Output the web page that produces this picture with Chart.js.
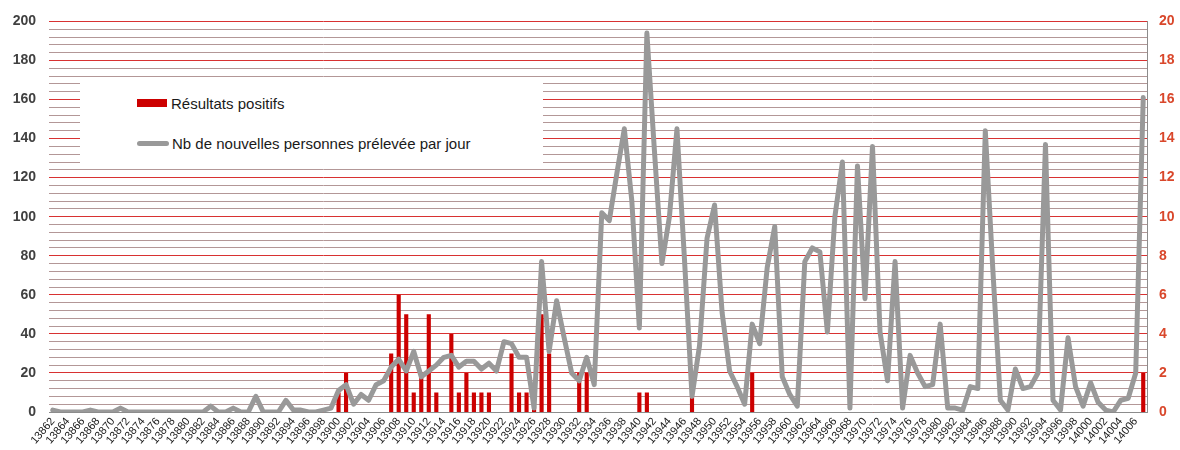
<!DOCTYPE html>
<html>
<head>
<meta charset="utf-8">
<script src="https://cdn.jsdelivr.net/npm/chart.js@4.4.1/dist/chart.umd.min.js"></script>
<style>
  html, body { margin: 0; padding: 0; background: #ffffff; }
  #wrap { position: relative; width: 1180px; height: 450px; overflow: hidden; }
  #legend { position: absolute; left: 80px; top: 82px; width: 463px; height: 87px; background: #ffffff;
            font-family: "Liberation Sans", Arial, sans-serif; font-size: 15px; color: #1a1a1a; }
  .item { position: absolute; left: 57px; height: 20px; display: flex; align-items: center; white-space: nowrap; }
  .sw-bar { width: 30px; height: 8px; background: #cc0000; margin-right: 4px; }
  .sw-line { width: 32px; height: 5px; border-radius: 3px; background: #999999; margin-right: 3px; }
</style>
</head>
<body>
<div id="wrap">
  <canvas id="c" width="1180" height="450"></canvas>
  <div id="legend"></div>
</div>
<script>
// ---- data ----
const firstDay = 13862;
const lastDay = 14007;
const categories = [];
for (let d = firstDay; d <= lastDay; d++) categories.push(String(d));

const positiveLabel = "Résultats positifs";
const samplesLabel = "Nb de nouvelles personnes prélevée par jour";

// Résultats positifs (right axis)
const positives = [
  0,0,0,0,0,0,0,0,0,0,
  0,0,0,0,0,0,0,0,0,0,
  0,0,0,0,0,0,0,0,0,0,
  0,0,0,0,0,0,0,0,1,2,
  0,0,0,0,0,3,6,5,1,2,
  5,1,0,4,1,2,1,1,1,0,
  0,3,1,1,0.3,5,3,0,0,0,
  2,2,0,0,0,0,0,0,1,1,
  0,0,0,0,0,0.8,0,0,0,0,
  0,0,0,2,0,0,0,0,0,0,
  0,0,0,0,0,0,0,0,0,0,
  0,0,0,0,0,0,0,0,0,0,
  0,0,0,0,0,0,0,0,0,0,
  0,0,0,0,0,0,0,0,0,0,
  0,0,0,0,0,2
];

// Nb de nouvelles personnes prélevées par jour (left axis)
const samples = [
  1,0,0,0,0,1,0,0,0,2,
  0,0,0,0,0,0,0,0,0,0,
  0,3,0,0,2,0,0,8,0,0,
  0,6,1,1,0,0,1,2,11,14,
  4,9,6,14,16,23,27,21,31,18,
  21,24,28,29,23,26,26,22,25,21,
  36,35,28,28,2,77,31,57,38,20,
  16,28,14,102,98,122,145,108,43,194,
  134,76,100,145,78,8,34,89,106,51,
  21,13,4,45,35,74,95,18,9,3,
  77,84,82,41,100,128,2,126,58,136,
  41,16,77,2,29,20,13,14,45,2,
  2,1,13,12,144,73,6,1,22,12,
  13,20,137,6,1,38,13,3,15,5,
  1,0,6,7,20,161
];

const leftMax = 200, leftGridStep = 4, leftLabelStep = 20;
const rightMax = 20, rightStep = 2;

// ---- legend (HTML, real text) ----
const lg = document.getElementById('legend');
lg.innerHTML =
  '<div class="item" style="top:11px"><div class="sw-bar"></div><span>' + positiveLabel + '</span></div>' +
  '<div class="item" style="top:51px"><div class="sw-line"></div><span>' + samplesLabel + '</span></div>';

const FONT = "'Liberation Sans', Arial, sans-serif";

new Chart(document.getElementById('c'), {
  data: {
    labels: categories,
    datasets: [
      {
        type: 'line', label: samplesLabel, data: samples, yAxisID: 'y',
        borderColor: '#999999', borderWidth: 5, pointRadius: 0, tension: 0,
        borderJoinStyle: 'round', borderCapStyle: 'round', order: 0
      },
      {
        type: 'bar', label: positiveLabel, data: positives, yAxisID: 'y2',
        backgroundColor: '#cc0000', barPercentage: 0.55, categoryPercentage: 1.0, order: 1
      }
    ]
  },
  options: {
    responsive: false, animation: false,
    layout: { padding: { top: 20, left: 0, right: 0, bottom: 0 } },
    plugins: { legend: { display: false }, tooltip: { enabled: false } },
    scales: {
      x: {
        offset: true,
        grid: { color: 'rgba(0,0,0,0)', drawTicks: false },
        border: { display: true, color: '#8c8c8c', width: 1 },
        ticks: {
          autoSkip: false, minRotation: 50, maxRotation: 50, padding: 3,
          color: '#1a1a1a', font: { family: FONT, size: 11 },
          callback: function (v, i) { return i % 2 === 0 ? this.getLabelForValue(v) : ''; }
        },
        afterFit: (s) => { s.height = 38; }
      },
      y: {
        position: 'left', min: 0, max: leftMax,
        grid: {
          drawTicks: false, lineWidth: 1,
          color: (ctx) => (ctx.tick && ctx.tick.value % leftLabelStep === 0) ? '#d83232' : '#b39797'
        },
        border: { display: false },
        ticks: {
          stepSize: leftGridStep, autoSkip: false, maxTicksLimit: 100, padding: 13, color: '#404040',
          font: { family: FONT, size: 14, weight: 'bold' },
          callback: (v) => (v % leftLabelStep === 0 ? v : '')
        },
        afterFit: (s) => { s.width = 49; }
      },
      y2: {
        position: 'right', min: 0, max: rightMax,
        grid: { display: false, drawTicks: false },
        border: { display: true, color: '#8c8c8c', width: 1 },
        ticks: {
          stepSize: rightStep, autoSkip: false, padding: 12, color: '#d9472b',
          font: { family: FONT, size: 14, weight: 'bold' }
        },
        afterFit: (s) => { s.width = 33; }
      }
    }
  }
});
</script>
</body>
</html>
